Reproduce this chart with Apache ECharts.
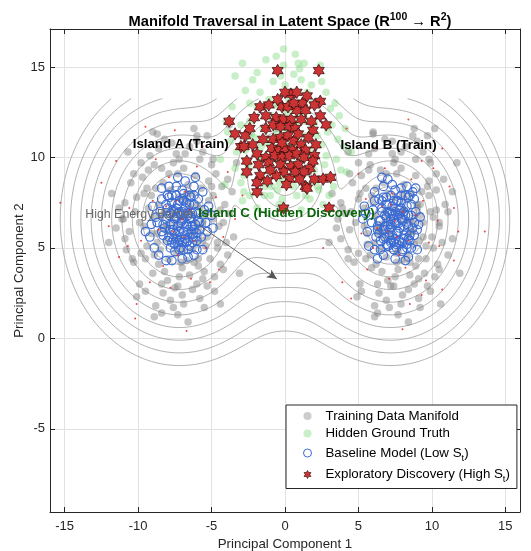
<!DOCTYPE html>
<html>
<head>
<meta charset="utf-8">
<script src="https://cdn.jsdelivr.net/npm/echarts@6/dist/echarts.min.js"></script>
<style>
  html, body { margin: 0; padding: 0; background: #fff; }
  #chart { width: 531px; height: 551px; }
</style>
</head>
<body>
<div id="chart"></div>
<script>
// training data, island A and island B
const trainA = [
  [-7.2,6.1],[-6.5,7.3],[-8.1,5.4],[-5.9,6.0],[-7.8,8.2],[-6.3,4.9],[-8.9,6.7],[-5.2,7.6],[-7.0,3.9],[-9.4,5.1],
  [-6.1,9.0],[-8.4,9.4],[-4.6,5.3],[-10.1,7.8],[-7.5,2.8],[-5.5,3.7],[-9.0,3.6],[-4.3,8.4],[-6.8,10.2],[-10.6,5.9],
  [-7.9,4.4],[-6.6,5.5],[-5.7,8.3],[-8.6,7.4],[-7.3,9.1],[-9.7,8.9],[-4.9,6.6],[-6.0,3.0],[-8.3,2.5],[-11.0,6.6],
  [-5.0,9.6],[-7.7,10.8],[-9.2,10.1],[-3.8,6.9],[-6.9,1.9],[-4.4,4.1],[-10.3,4.2],[-8.8,1.8],[-5.8,2.2],[-3.5,5.6],
  [-7.4,7.0],[-6.2,6.8],[-8.0,6.3],[-6.7,4.3],[-5.4,5.1],[-9.6,6.2],[-8.5,4.9],[-6.4,8.0],[-7.1,5.2],[-5.1,7.0],
  [-9.1,7.9],[-7.6,9.7],[-4.7,9.1],[-10.5,8.6],[-11.3,7.2],[-6.0,10.9],[-8.2,11.0],[-4.1,7.4],[-3.9,4.6],[-10.8,4.9],
  [-9.9,3.0],[-7.0,2.4],[-5.3,2.9],[-8.0,3.2],[-6.5,3.5],[-4.8,3.4],[-3.6,8.1],[-5.6,10.3],[-9.3,9.3],[-11.5,6.1],
  [-6.8,7.7],[-7.6,5.8],[-8.3,8.6],[-5.9,4.4],[-9.5,4.4],[-4.5,6.2],[-6.2,11.6],[-3.8,11.8],[-8.9,1.2],[-4.4,1.9],
  [-7.3,1.3],[-10.1,2.3],[-11.8,8.0],[-5.3,11.2],[-9.0,11.4],[-3.3,9.7],[-3.1,3.6],[-12.0,5.3],[-10.7,10.3],[-6.6,0.9],
  [-8.7,5.8],[-6.9,6.5],[-7.7,7.2],[-5.6,6.4],[-8.2,7.0],[-6.3,5.9],[-7.4,4.7],[-6.0,7.4],[-8.8,8.3],[-5.2,8.7],
  [-6.9,6.9],[-7.5,6.4],[-6.4,5.7],[-8.0,5.9],[-7.2,7.8],[-6.1,6.4],[-8.4,6.8],[-7.0,4.8],[-5.8,7.2],[-8.7,5.3],
  [-6.6,8.5],[-7.9,9.1],[-5.3,5.6],[-9.3,7.2],[-7.2,3.4],[-5.9,4.0],[-8.6,4.1],[-4.9,7.9],[-7.4,10.2],[-9.9,6.4],
  [-8.2,3.7],[-6.0,5.2],[-5.0,8.4],[-9.4,8.3],[-6.9,9.4],[-10.2,7.0],[-4.2,6.4],[-6.3,2.7],[-7.8,2.1],[-10.9,5.5],
  [-5.8,9.9],[-8.6,10.5],[-9.8,9.7],[-4.6,5.0],[-7.6,1.7],[-5.1,4.4],[-9.8,4.7],[-8.4,1.4],[-5.5,1.7],[-4.0,5.3],
  [-7.7,6.7],[-6.6,7.1],[-8.3,6.1],[-7.1,4.2],[-5.6,5.4],[-9.1,5.8],[-8.9,4.6],[-6.7,8.0],[-7.4,5.5],[-5.5,6.8],
  [-9.6,8.0],[-7.2,9.9],[-4.9,9.9],[-10.3,9.1],[-11.1,6.6],[-6.5,10.6],[-8.7,11.3],[-4.4,7.1],[-4.2,3.8],[-10.4,4.4],
  [-9.5,2.6],[-7.3,2.9],[-5.6,3.3],[-8.4,3.0],[-6.2,4.2],[-4.8,2.6],[-3.9,8.8],[-6.0,11.2],[-8.9,9.6],[-10.9,7.5]
];
const trainB = [
  [7.4,6.2],[8.1,7.1],[6.8,5.5],[8.6,5.9],[7.0,8.0],[8.3,4.6],[6.2,6.8],[9.2,7.4],[7.7,3.8],[5.6,5.2],
  [8.9,9.0],[6.5,9.3],[10.0,5.6],[5.0,7.7],[7.2,2.9],[9.5,3.6],[5.9,3.9],[10.3,8.2],[7.9,10.3],[4.4,6.0],
  [6.9,4.5],[8.5,6.5],[9.3,8.1],[6.0,7.5],[7.6,9.1],[5.2,9.0],[10.1,6.7],[8.8,3.0],[6.4,2.5],[4.1,6.9],
  [9.9,9.7],[7.3,10.9],[5.7,10.2],[11.1,7.0],[7.9,1.9],[10.4,4.1],[4.7,4.2],[6.1,1.8],[9.1,2.2],[11.4,5.5],
  [7.6,7.0],[8.8,6.8],[6.6,6.3],[8.0,4.3],[9.6,5.1],[5.4,6.2],[6.5,4.9],[8.6,8.0],[7.9,5.2],[9.9,7.0],
  [5.9,7.9],[7.4,9.7],[10.3,9.1],[4.6,8.6],[3.9,7.2],[9.0,10.9],[6.8,11.0],[10.9,7.4],[11.1,4.6],[4.3,4.9],
  [5.1,3.0],[8.0,2.4],[9.7,2.9],[7.0,3.2],[8.5,3.5],[10.2,3.4],[11.4,8.1],[9.4,10.3],[5.7,9.3],[3.5,6.1],
  [8.2,7.7],[7.2,5.8],[6.7,8.6],[9.1,4.4],[5.5,4.4],[10.5,6.2],[8.8,11.6],[10.2,11.6],[6.1,1.2],[10.6,1.9],
  [7.7,1.3],[4.9,2.3],[3.2,8.0],[9.7,11.2],[6.0,11.4],[11.7,9.7],[11.9,3.6],[3.0,5.3],[4.3,10.3],[8.4,0.9],
  [6.3,5.8],[8.1,6.5],[7.3,7.2],[9.4,6.4],[6.8,7.0],[8.7,5.9],[7.6,4.7],[9.0,7.4],[6.2,8.3],[9.8,8.7],
  [7.9,6.9],[7.1,6.4],[8.4,5.7],[6.6,5.9],[7.5,7.8],[8.7,6.4],[6.3,6.1],[7.7,4.8],[9.0,7.2],[6.1,5.3],
  [8.1,8.5],[6.9,9.1],[9.4,5.6],[5.4,7.2],[7.5,3.4],[8.9,4.0],[6.2,4.1],[9.8,7.9],[7.3,10.2],[4.8,6.4],
  [6.6,3.7],[8.8,5.2],[9.7,8.4],[5.5,8.3],[7.9,9.4],[4.5,7.0],[10.5,6.4],[8.4,2.7],[6.9,2.1],[3.8,5.5],
  [8.9,9.9],[6.1,10.5],[5.0,9.7],[10.1,5.0],[7.1,1.7],[9.6,4.4],[5.0,4.7],[6.3,1.4],[9.2,1.7],[10.7,5.3],
  [7.0,6.7],[8.1,7.1],[6.4,6.1],[7.6,4.2],[9.1,5.4],[5.6,5.8],[5.8,4.6],[8.0,8.0],[7.3,5.5],[9.2,6.8],
  [5.1,8.0],[7.5,9.9],[9.8,9.9],[4.4,9.1],[3.6,6.6],[8.2,10.6],[6.0,11.3],[10.3,7.1],[10.5,3.8],[4.3,4.4],
  [5.2,2.6],[7.4,2.9],[9.1,3.3],[6.3,3.0],[8.5,4.2],[9.9,2.6],[10.8,8.8],[8.7,11.2],[5.8,9.6],[3.8,7.5]
];
// hidden island C
const hiddenTruth = [
  [-0.1,16.0],[1.3,15.2],[0.6,14.6],[-2.2,14.3],[-0.8,14.2],[-2.7,13.7],[-1.7,13.6],[2.8,13.6],[3.1,12.7],[-2.4,12.0],
  [3.6,11.0],[4.5,10.3],[-2.8,9.0],[-1.3,8.4],[-0.5,8.2],[0.6,8.4],[2.3,8.2],[3.8,9.3],[-2.4,7.9],[-1.0,7.9],
  [-1.4,7.9],[-0.9,8.4],[0.8,7.9],[1.7,7.7],[2.2,8.4],[-3.0,11.8],[-3.9,11.4],[-4.4,9.9],[-3.0,8.6],[-2.8,8.1],
  [-1.3,15.4],[1.8,14.0],[0.3,13.2],[-0.6,12.9],[1.2,12.4],[2.0,11.9],[-1.5,11.6],[0.1,11.3],[0.9,10.8],[-0.7,10.5],
  [1.6,10.1],[-2.0,10.2],[0.4,9.6],[-1.1,9.3],[1.2,9.0],[2.7,9.6],[-0.2,8.9],[2.5,10.7],[-3.3,10.3],[3.3,8.4],
  [-0.3,12.0],[0.7,11.8],[-1.0,11.0],[1.9,13.0],[-1.9,12.8],[0.0,14.0],[1.0,14.9],[-3.4,14.5],[2.4,15.1],[3.7,12.3],
  [-3.6,12.8],[-4.1,8.5],[4.1,11.6],[-2.5,9.6],[2.0,9.3],[-0.4,7.4],[1.1,7.1],[3.0,7.9],[-1.9,7.2],[0.3,10.2],
  [-0.8,9.9],[1.4,11.2],[-1.6,10.6],[0.5,12.6],[-2.3,11.3],[2.9,11.4],[-0.1,15.1],[0.7,15.7],[-2.9,15.2],[4.2,9.2],
  [0.2,10.6],[-0.6,11.4],[1.0,9.8],[-1.2,10.8],[0.6,11.9],[1.7,10.4],[-1.8,9.8],[0.0,9.3],[1.3,12.0],[-0.9,12.3],
  [2.2,11.2],[-2.1,11.1],[0.8,8.9],[-0.4,8.6],[1.9,8.7],[-1.6,8.9],[2.8,10.1],[-2.7,10.4],[0.4,13.6],[-1.1,13.2],
  [1.5,13.6],[-2.4,13.0],[3.2,11.8],[-3.4,9.4],[3.5,9.9],[-0.2,7.7],[1.4,7.9],[-3.7,10.9],[4.0,10.6],[2.5,14.2],
  [-1.9,14.7],[0.9,15.2],[-0.6,15.6],[3.4,13.0],[-4.0,12.0],[2.6,7.4],[-2.9,7.6],[0.1,12.5],[-0.3,14.5],[1.1,14.3]
];
// baseline model samples (low S_t)
const baselineA = [
  [-7.1,6.4],[-6.6,6.9],[-7.6,6.0],[-6.8,5.7],[-7.4,7.2],[-6.3,6.2],[-7.9,6.8],[-6.9,7.6],[-7.3,5.3],[-6.1,7.0],
  [-8.2,6.1],[-6.5,5.1],[-7.7,7.9],[-5.9,6.5],[-8.0,5.4],[-7.0,8.2],[-6.4,7.8],[-8.5,7.0],[-5.7,5.6],[-7.5,4.8],
  [-6.2,8.4],[-8.7,6.4],[-5.5,7.1],[-7.3,8.9],[-6.6,4.5],[-9.5,5.9],[-5.2,7.3],[-8.9,5.0],[-6.0,4.9],[-7.9,8.4],
  [-5.6,8.1],[-8.4,7.7],[-7.2,5.9],[-6.7,6.3],[-7.8,5.0],[-6.3,5.6],[-7.0,7.0],[-6.9,4.9],[-8.1,7.4],[-5.8,6.0],
  [-7.5,6.6],[-6.4,6.7],[-7.2,7.6],[-6.0,5.4],[-8.3,5.7],[-6.8,8.7],[-7.6,5.5],[-5.4,6.4],[-8.8,6.7],[-6.5,7.4],
  [-7.1,5.0],[-7.8,6.3],[-6.2,6.0],[-9.1,6.3],[-5.3,5.9],[-7.4,8.4],[-6.7,5.3],[-8.0,7.9],[-5.9,7.7],[-7.0,4.4],
  [-9.2,5.6],[-8.6,4.6],[-6.1,8.9],[-5.0,6.8],[-7.7,4.3],[-8.4,8.3],[-6.6,6.0],[-7.3,6.9],[-6.9,6.6],[-7.6,7.0],
  [-6.2,4.6],[-5.6,4.9],[-9.0,7.3],[-8.1,4.3],[-4.9,6.1],
  [-7.0,6.5],[-6.7,6.2],[-7.4,6.7],[-6.9,5.9],[-7.2,7.0],[-6.5,6.6],[-7.6,6.3],[-7.1,5.6],[-6.8,7.2],[-7.5,5.8],
  [-6.3,6.9],[-7.8,6.9],[-6.6,5.4],[-7.3,7.4],[-6.1,6.3],[-7.9,5.6],[-7.0,7.7],[-6.4,5.8],[-8.1,6.6],[-6.7,7.5],
  [-7.5,5.2],[-6.2,7.4],[-7.7,7.5],[-6.0,5.8],[-7.2,5.4],[-6.9,6.9],[-7.3,6.2],[-6.6,6.8],[-7.8,6.0],[-6.4,6.2],
  [-7.1,6.8],[-6.8,5.5],[-7.6,7.1],[-6.3,5.3],[-8.3,6.3],[-5.9,6.9],[-7.4,5.5],[-6.5,7.9],[-7.0,5.3],[-6.1,5.6],
  [-8.0,7.2],[-6.9,8.0],[-7.7,5.3],[-5.8,6.4],[-7.4,7.9],[-6.6,4.9],[-8.4,5.9],[-6.2,7.9],[-7.9,7.8],[-7.2,4.9]
];
const baselineB = [
  [7.6,6.4],[7.1,6.9],[8.1,6.0],[7.3,5.7],[7.9,7.2],[6.8,6.2],[8.4,6.8],[7.4,7.6],[7.8,5.3],[6.6,7.0],
  [8.7,6.1],[7.0,5.1],[8.2,7.9],[6.4,6.5],[8.5,5.4],[7.5,8.2],[6.9,7.8],[8.9,7.0],[6.2,5.6],[8.0,4.8],
  [6.7,8.4],[9.0,6.0],[6.0,7.1],[7.0,8.8],[6.3,4.4],[5.3,6.6],[6.1,7.6],[8.6,5.0],[6.5,4.9],[8.3,8.4],
  [6.1,8.1],[8.8,7.7],[7.7,5.9],[7.2,6.3],[8.3,5.0],[6.8,5.6],[7.5,7.0],[7.4,4.9],[8.6,7.4],[6.3,6.0],
  [8.0,6.6],[6.9,6.7],[7.7,7.6],[6.5,5.4],[8.8,5.7],[7.3,8.5],[8.1,5.5],[5.9,6.4],[9.2,6.7],[7.0,7.4],
  [7.6,5.0],[8.3,6.3],[6.7,6.0],[5.6,5.9],[8.7,8.1],[7.9,8.3],[7.2,5.3],[8.5,7.9],[6.4,7.7],[7.5,4.4],
  [5.5,6.9],[9.0,4.9],[6.6,8.9],[5.7,5.1],[8.2,4.3],[8.9,8.3],[7.1,6.0],[7.8,6.9],[7.4,6.6],[8.1,7.0],
  [6.7,4.6],[6.1,4.9],[5.4,7.3],[8.4,4.5],[9.1,6.3],
  [7.5,6.4],[7.8,6.1],[7.2,6.6],[7.6,5.8],[7.3,6.9],[8.0,6.5],[7.0,6.2],[7.5,5.5],[7.8,7.1],[7.1,5.7],
  [8.2,6.8],[6.8,6.8],[8.0,5.3],[7.3,7.3],[8.4,6.2],[6.7,5.5],[7.6,7.6],[8.1,5.7],[6.5,6.5],[7.9,7.5],
  [7.0,5.1],[8.3,7.3],[6.9,7.4],[8.5,5.7],[7.4,5.3],[7.7,6.8],[7.2,6.1],[7.9,6.6],[6.8,6.0],[8.1,6.2],
  [7.4,6.8],[7.8,5.4],[7.0,7.0],[8.3,5.2],[6.3,6.2],[8.6,6.8],[7.2,5.4],[7.9,7.9],[7.6,5.2],[8.4,5.5],
  [6.6,7.2],[7.2,7.9],[6.9,5.2],[8.8,6.4],[6.7,7.8],[8.0,4.9],[6.4,5.8],[8.4,7.8],[6.6,7.6],[7.4,4.9]
];
// exploratory discovery samples (high S_t)
const discovery = [
  [-0.5,14.8],[2.3,14.8],[0.4,13.5],[0.8,13.6],[1.2,13.0],[1.5,13.4],[2.4,13.1],[-1.7,12.8],[-1.1,12.9],[-0.2,12.8],
  [0.2,12.8],[0.8,12.6],[1.4,12.6],[2.4,12.3],[-1.3,12.3],[-0.6,12.2],[-0.1,12.1],[0.4,12.1],[1.1,12.1],[2.8,11.8],
  [1.9,11.5],[-1.3,11.6],[-0.8,11.8],[-0.3,11.7],[0.3,11.7],[0.7,11.6],[1.6,11.1],[-2.7,11.2],[-3.0,10.6],[-2.2,10.7],
  [-0.8,11.0],[-0.3,11.1],[0.2,11.2],[0.6,10.9],[1.1,10.7],[2.1,10.7],[-0.9,10.5],[-0.4,10.4],[0.0,10.5],[0.5,10.4],
  [1.4,10.4],[2.0,10.1],[-1.9,10.2],[-1.3,10.0],[-0.7,10.1],[-0.2,10.0],[0.3,10.1],[0.8,10.2],[1.3,10.0],[-2.6,9.8],
  [-1.8,9.6],[-1.1,9.7],[-0.3,9.6],[0.4,9.5],[0.9,9.6],[1.7,9.4],[-2.6,9.2],[-1.7,9.0],[-0.1,9.2],[0.3,8.8],
  [0.7,9.2],[1.3,9.2],[2.0,8.8],[2.6,8.8],[3.1,8.9],[1.4,8.4],[-1.9,8.1],[-0.1,7.2],[3.0,7.2],[-3.8,12.0],
  [-3.4,11.3],[-2.8,10.6],[-1.9,8.6],[1.5,8.3],[-2.1,12.2],[-0.5,13.2],[0.0,13.6],[-1.5,11.0],[1.8,12.0],[-0.6,9.0],
  [1.0,8.8],[-1.2,8.7],[0.9,11.3],[-0.2,10.8],[1.9,9.8],[-2.4,11.6],[0.6,13.0],[2.0,12.9],[-1.0,9.3],[0.1,8.5]
];
// small red trace points around the training islands
const tracePts = [
  [-9.5,11.7],[-11.5,9.8],[-12.5,8.6],[-15.3,7.5],[-10.6,7.2],[-12.0,6.2],[-10.7,5.1],[-11.3,4.5],[-10.1,1.9],[-10.2,1.1],
  [-7.5,11.5],[-6.7,0.4],[-5.1,3.1],[-7.8,2.8],[-7.0,6.6],[-6.5,7.1],[-7.6,5.9],[-6.2,5.4],[-8.1,7.3],[-7.3,4.6],
  [-5.8,6.8],[-8.6,6.0],[-6.8,8.1],[-7.9,8.9],[-5.4,5.0],[-9.0,7.6],[-6.0,9.5],[-8.3,4.0],[-4.7,7.8],[-9.8,5.4],
  [-4.2,5.6],[-6.4,3.3],[-8.8,9.9],[-3.9,9.2],[-5.6,10.6],[-9.2,3.1],[-4.5,3.8],[-3.4,6.6],[-6.9,5.6],[-7.4,7.6],
  [8.4,12.1],[10.7,10.5],[10.1,9.4],[11.2,8.4],[11.5,7.2],[13.6,5.9],[11.8,5.9],[10.5,5.1],[11.5,4.3],[10.7,2.7],
  [9.3,2.4],[8.0,0.5],[8.5,1.9],[4.5,2.2],[3.9,3.1],[2.6,5.0],[4.2,11.6],[-2.9,7.9],[7.5,6.5],[8.0,7.0],
  [7.0,5.9],[8.4,5.4],[6.6,7.3],[7.8,4.6],[8.9,6.8],[6.3,6.1],[7.3,8.0],[8.6,8.8],[6.0,5.0],[9.4,7.6],
  [6.8,9.4],[8.2,3.9],[5.5,7.7],[9.8,5.3],[5.2,5.8],[7.1,3.3],[9.3,9.8],[5.0,9.1],[6.2,10.5],[9.6,3.2],
  [5.6,3.8],[10.4,6.5],[7.6,5.6],[7.2,7.4]
];

// energy landscape: wells (A, B, C) and contour levels
const wellX = [-7.2, 7.2, 0.0];
const wellY = [6.6, 6.6, 9.0];
const softness = 0.9;
const contourLevels = [1.1, 1.8, 2.5, 3.2, 3.9, 4.6, 5.3, 6.0, 6.7, 7.4, 8.1];
const meshX = [-15.5, 15.5];
const meshY = [-4, 13.25];

function energy(x, y) {
  let s = 0;
  for (let k = 0; k < wellX.length; k++) {
    s += Math.exp(-Math.hypot(x - wellX[k], y - wellY[k]) / softness);
  }
  return -softness * Math.log(s);
}

// marching squares, joined into polylines
function contourLines() {
  const h = 0.1;
  const nx = Math.round((meshX[1] - meshX[0]) / h) + 1;
  const ny = Math.round((meshY[1] - meshY[0]) / h) + 1;
  const hy = (meshY[1] - meshY[0]) / (ny - 1);
  const z = new Float64Array(nx * ny);
  for (let j = 0; j < ny; j++) {
    for (let i = 0; i < nx; i++) z[j * nx + i] = energy(meshX[0] + i * h, meshY[0] + j * hy);
  }
  const out = [];
  contourLevels.forEach(L => {
    const pts = {}, adj = {};
    const ep = (key, xa, ya, za, xb, yb, zb) => {
      if (!pts[key]) {
        const t = (L - za) / (zb - za);
        pts[key] = [xa + t * (xb - xa), ya + t * (yb - ya)];
      }
      return key;
    };
    const link = (a, b) => {
      (adj[a] = adj[a] || []).push(b);
      (adj[b] = adj[b] || []).push(a);
    };
    for (let j = 0; j < ny - 1; j++) {
      for (let i = 0; i < nx - 1; i++) {
        const xa = meshX[0] + i * h, xb = xa + h;
        const ya = meshY[0] + j * hy, yb = ya + hy;
        const za = z[j * nx + i], zb = z[j * nx + i + 1];
        const zc = z[(j + 1) * nx + i + 1], zd = z[(j + 1) * nx + i];
        const e = {};
        let n = 0;
        if ((za >= L) !== (zb >= L)) { e.b = ep('h' + i + '_' + j, xa, ya, za, xb, ya, zb); n++; }
        if ((zb >= L) !== (zc >= L)) { e.r = ep('v' + (i + 1) + '_' + j, xb, ya, zb, xb, yb, zc); n++; }
        if ((zd >= L) !== (zc >= L)) { e.t = ep('h' + i + '_' + (j + 1), xa, yb, zd, xb, yb, zc); n++; }
        if ((za >= L) !== (zd >= L)) { e.l = ep('v' + i + '_' + j, xa, ya, za, xa, yb, zd); n++; }
        if (n === 2) {
          const k = Object.values(e);
          link(k[0], k[1]);
        } else if (n === 4) {
          const m = (za + zb + zc + zd) / 4;
          if ((za >= L) === (m >= L)) { link(e.b, e.r); link(e.t, e.l); }
          else { link(e.b, e.l); link(e.t, e.r); }
        }
      }
    }
    const used = new Set();
    const walk = start => {
      const line = [pts[start]];
      used.add(start);
      let cur = start;
      while (true) {
        const nb = adj[cur].filter(k => !used.has(k));
        if (!nb.length) {
          if (line.length > 2 && adj[cur].includes(start)) line.push(pts[start]);
          break;
        }
        cur = nb[0];
        used.add(cur);
        line.push(pts[cur]);
      }
      return line;
    };
    Object.keys(adj).forEach(k => { if (!used.has(k) && adj[k].length === 1) out.push(walk(k)); });
    Object.keys(adj).forEach(k => { if (!used.has(k)) out.push(walk(k)); });
  });
  return out;
}

const hexagram = 'path://M0,-1L0.289,-0.5L0.866,-0.5L0.577,0L0.866,0.5L0.289,0.5L0,1L-0.289,0.5L-0.866,0.5L-0.577,0L-0.866,-0.5L-0.289,-0.5Z';
const FONT = '"Liberation Sans", Arial, Helvetica, sans-serif';
const INK = '#262626';

const contourSeries = contourLines().map(line => ({
  type: 'line',
  data: line,
  showSymbol: false,
  silent: true,
  z: 1,
  lineStyle: { color: '#a8a8a8', width: 0.9 },
  emphasis: { disabled: true }
}));

const noteLabel = (text, size, weight, color) => ({
  formatter: text, fontSize: size, fontWeight: weight, color: color,
  textBorderWidth: 0, textBorderColor: 'transparent', textShadowBlur: 0, opacity: 1
});

const chart = echarts.init(document.getElementById('chart'));
chart.setOption({
  animation: false,
  backgroundColor: '#fff',
  textStyle: { fontFamily: FONT },
  title: {
    text: '{t|Manifold Traversal in Latent Space (R}{s|100}{t| \u2192 R}{s|2}{t|)}',
    left: 285,
    top: 7,
    textAlign: 'center',
    textStyle: {
      rich: {
        t: { fontFamily: FONT, fontSize: 14.7, fontWeight: 'bold', color: '#000' },
        s: { fontFamily: FONT, fontSize: 10.5, fontWeight: 'bold', color: '#000', padding: [0, 0, 8, 0] }
      }
    }
  },
  legend: {
    orient: 'vertical',
    left: 286,
    top: 405,
    padding: [3, 7, 4, 17],
    itemWidth: 8,
    itemHeight: 8,
    itemGap: 1.5,
    selectedMode: false,
    backgroundColor: '#fff',
    borderColor: INK,
    borderWidth: 1,
    borderRadius: 0,
    formatter: name => name.replace('S_t)', 'S{sub|t})'),
    textStyle: {
      fontFamily: FONT, fontSize: 13.3, color: '#000', lineHeight: 16, padding: [0, 0, 0, 9],
      rich: { sub: { fontFamily: FONT, fontSize: 9.5, color: '#000', lineHeight: 11, padding: [10, 0, 0, 0] } }
    },
    data: [
      { name: 'Training Data Manifold', icon: 'circle', itemStyle: { color: 'rgba(128,128,128,0.4)' } },
      { name: 'Hidden Ground Truth', icon: 'circle', itemStyle: { color: 'rgba(100,210,100,0.35)' } },
      { name: 'Baseline Model (Low S_t)', icon: 'circle', itemStyle: { color: '#fff', borderColor: '#3a6bd4', borderWidth: 1 } },
      { name: 'Exploratory Discovery (High S_t)', icon: hexagram, itemStyle: { color: '#cc3333', borderColor: '#2a0a0a', borderWidth: 0.6 } }
    ]
  },
  grid: { left: 50, right: 11, top: 29, bottom: 39, outerBoundsMode: 'none' },
  xAxis: [{
    type: 'value', min: -16, max: 16, splitNumber: 5,
    name: 'Principal Component 1', nameLocation: 'middle', nameGap: 26, nameMoveOverlap: false,
    nameTextStyle: { fontFamily: FONT, fontSize: 13.3, color: INK },
    axisLine: { onZero: false, lineStyle: { color: INK, width: 1 } },
    axisTick: { inside: true, length: 5, lineStyle: { color: INK } },
    axisLabel: { fontFamily: FONT, fontSize: 13, color: INK, margin: 8, showMinLabel: false, showMaxLabel: false },
    splitLine: { show: true, lineStyle: { color: '#e2e2e2', width: 1 } }
  }, {
    type: 'value', min: -16, max: 16, splitNumber: 5, position: 'top',
    axisLine: { onZero: false, lineStyle: { color: INK, width: 1 } },
    axisTick: { inside: true, length: 5, lineStyle: { color: INK } },
    axisLabel: { show: false }, splitLine: { show: false }
  }],
  yAxis: [{
    type: 'value', min: -9.6, max: 17.1, splitNumber: 5,
    name: 'Principal Component 2', nameLocation: 'middle', nameGap: 24, nameMoveOverlap: false,
    nameTextStyle: { fontFamily: FONT, fontSize: 13.3, color: INK },
    axisLine: { onZero: false, lineStyle: { color: INK, width: 1 } },
    axisTick: { inside: true, length: 5, lineStyle: { color: INK } },
    axisLabel: { fontFamily: FONT, fontSize: 13, color: INK, margin: 5, showMinLabel: false, showMaxLabel: false },
    splitLine: { show: true, lineStyle: { color: '#e2e2e2', width: 1 } }
  }, {
    type: 'value', min: -9.6, max: 17.1, splitNumber: 5, position: 'right',
    axisLine: { onZero: false, lineStyle: { color: INK, width: 1 } },
    axisTick: { inside: true, length: 5, lineStyle: { color: INK } },
    axisLabel: { show: false }, splitLine: { show: false }
  }],
  series: contourSeries.concat([
    {
      name: 'Training Data Manifold', type: 'scatter', z: 2, symbol: 'circle', symbolSize: 7.5,
      data: trainA.concat(trainB),
      itemStyle: { color: 'rgba(125,125,125,0.45)', opacity: 1 }
    },
    {
      name: 'Hidden Ground Truth', type: 'scatter', z: 3, symbol: 'circle', symbolSize: 7.5,
      data: hiddenTruth,
      itemStyle: { color: 'rgba(100,210,100,0.35)', opacity: 1 }
    },
    {
      name: 'Baseline Model (Low S_t)', type: 'scatter', z: 4, symbol: 'circle', symbolSize: 8.5,
      data: baselineA.concat(baselineB),
      itemStyle: { color: 'rgba(255,255,255,0)', borderColor: '#3a6bd4', borderWidth: 1.15, opacity: 1 }
    },
    {
      name: 'Exploratory Discovery (High S_t)', type: 'scatter', z: 5, symbol: hexagram, symbolSize: [11, 12.5],
      data: discovery,
      itemStyle: { color: '#cc3333', borderColor: '#2a0a0a', borderWidth: 0.7, opacity: 1 }
    },
    {
      name: 'trace', type: 'scatter', z: 6, symbol: 'circle', symbolSize: 2, silent: true,
      data: tracePts,
      itemStyle: { color: 'rgba(235,50,50,0.9)', opacity: 1 }
    },
    {
      name: 'notes', type: 'scatter', z: 8, symbolSize: 0, silent: true,
      itemStyle: { opacity: 1 },
      label: { show: true, position: 'inside', fontFamily: FONT },
      data: [
        { value: [-7.1, 10.7], label: noteLabel('Island A (Train)', 13.3, 'bold', '#000') },
        { value: [7.05, 10.66], label: noteLabel('Island B (Train)', 13.3, 'bold', '#000') },
        { value: [0.1, 6.93], label: noteLabel('Island C (Hidden Discovery)', 13.3, 'bold', '#0a640a') },
        { value: [-9.9, 6.85], label: noteLabel('High Energy Barrier', 12.4, 'normal', '#6b6b6b') }
      ],
      markLine: {
        silent: true,
        symbol: ['none', 'arrow'],
        symbolSize: [7, 10],
        label: { show: false },
        lineStyle: { color: '#555', width: 0.9, type: 'solid', opacity: 1 },
        data: [[{ coord: [-5.85, 6.25] }, { coord: [-0.55, 3.28] }]]
      }
    }
  ])
});
</script>
</body>
</html>
